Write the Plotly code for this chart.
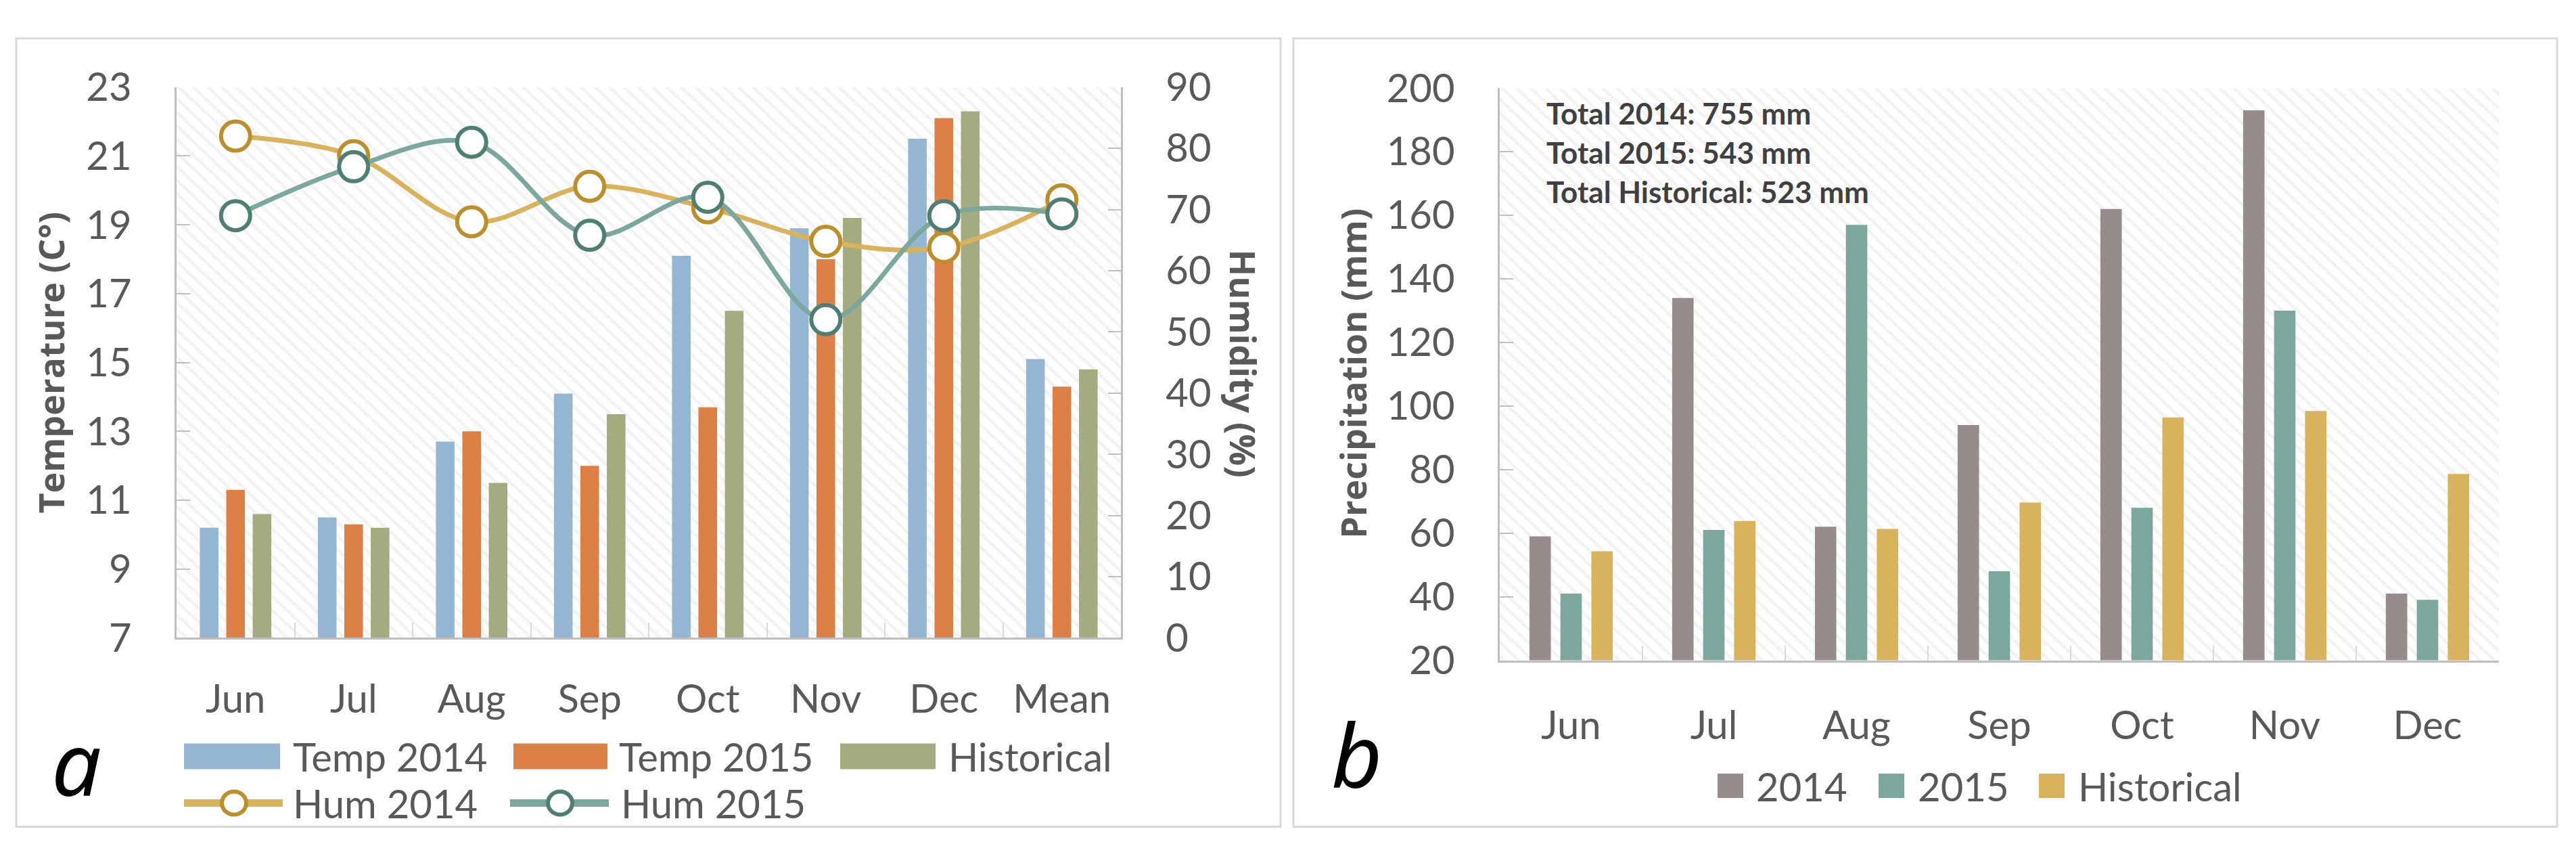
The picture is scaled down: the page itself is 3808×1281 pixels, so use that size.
import base64
import plotly.graph_objects as go

# ---------------- data ----------------
months_a = ["Jun", "Jul", "Aug", "Sep", "Oct", "Nov", "Dec", "Mean"]
temp_2014 = [10.2, 10.5, 12.7, 14.1, 18.1, 18.9, 21.5, 15.1]
temp_2015 = [11.3, 10.3, 13.0, 12.0, 13.7, 18.0, 22.1, 14.3]
temp_hist = [10.6, 10.2, 11.5, 13.5, 16.5, 19.2, 22.3, 14.8]
hum_2014 = [82.0, 78.8, 68.0, 73.8, 70.3, 64.8, 63.8, 71.6]
hum_2015 = [69.0, 77.0, 81.0, 65.8, 72.0, 52.0, 69.0, 69.3]

months_b = ["Jun", "Jul", "Aug", "Sep", "Oct", "Nov", "Dec"]
prec_2014 = [59, 134, 62, 94, 162, 193, 41]
prec_2015 = [41, 61, 157, 48, 68, 130, 39]
prec_hist = [54.3, 63.8, 61.3, 69.6, 96.4, 98.4, 78.6]

temp_ticks = [7, 9, 11, 13, 15, 17, 19, 21, 23]
hum_ticks = [0, 10, 20, 30, 40, 50, 60, 70, 80, 90]
prec_ticks = [20, 40, 60, 80, 100, 120, 140, 160, 180, 200]

legend_a_bars = ["Temp 2014", "Temp 2015", "Historical"]
legend_a_lines = ["Hum 2014", "Hum 2015"]
legend_b = ["2014", "2015", "Historical"]
totals_text = ["Total 2014: 755 mm", "Total 2015: 543 mm", "Total Historical: 523 mm"]

# ---------------- style ----------------
W, H = 3808, 1281
C_T14, C_T15, C_TH = "#95B6D2", "#DD8047", "#A5AB81"
C_H14_LINE, C_H14_MK = "#D9B25C", "#BB8F2C"
C_H15_LINE, C_H15_MK = "#7BA79D", "#4F7F72"
C_P14, C_P15, C_PH = "#968C8C", "#7BA79D", "#D8B25C"
TXT = "#595959"
AXC = "#BFBFBF"
TICKFONT = dict(family="Lato, 'Open Sans', sans-serif", size=58, color=TXT)
TITLEFONT = dict(family="'Open Sans', 'Noto Sans', sans-serif", size=52, color=TXT, weight="bold")


def px(x):
    return x / W


def py(y):
    return 1 - y / H


def hatch(wpx, hpx):
    svg = (
        f'<svg xmlns="http://www.w3.org/2000/svg" width="{wpx}" height="{hpx}" '
        f'viewBox="0 0 {wpx} {hpx}" preserveAspectRatio="none">'
        '<defs><pattern id="p" width="15" height="15" patternUnits="userSpaceOnUse" '
        'patternTransform="rotate(-45)"><rect x="0" y="0" width="5" height="15" fill="#F3F3F3"/>'
        '</pattern></defs>'
        f'<rect width="{wpx}" height="{hpx}" fill="#FFFFFF"/>'
        f'<rect width="{wpx}" height="{hpx}" fill="url(#p)"/></svg>'
    )
    return "data:image/svg+xml;base64," + base64.b64encode(svg.encode()).decode()


fig = go.Figure()

# ---------- panel a bars ----------
wa, sa = 0.158, 0.224
for i, (name, vals, col) in enumerate(
    [(legend_a_bars[0], temp_2014, C_T14), (legend_a_bars[1], temp_2015, C_T15), (legend_a_bars[2], temp_hist, C_TH)]
):
    fig.add_trace(go.Bar(
        x=months_a, y=vals, name=name, marker=dict(color=col, line=dict(width=0)),
        width=wa, offset=(i - 1) * sa - wa / 2, xaxis="x", yaxis="y", showlegend=False,
    ))

# ---------- panel a humidity lines ----------
for name, vals, lc, mc in [(legend_a_lines[0], hum_2014, C_H14_LINE, C_H14_MK),
                           (legend_a_lines[1], hum_2015, C_H15_LINE, C_H15_MK)]:
    fig.add_trace(go.Scatter(
        x=months_a, y=vals, name=name, mode="lines+markers",
        line=dict(color=lc, width=7, shape="spline", smoothing=1.0),
        marker=dict(symbol="circle", size=43, color="white", line=dict(color=mc, width=6)),
        xaxis="x", yaxis="y2", showlegend=False, cliponaxis=False,
    ))

# ---------- panel b bars ----------
wb, sb = 0.150, 0.217
for i, (name, vals, col) in enumerate(
    [(legend_b[0], prec_2014, C_P14), (legend_b[1], prec_2015, C_P15), (legend_b[2], prec_hist, C_PH)]
):
    fig.add_trace(go.Bar(
        x=months_b, y=vals, name=name, marker=dict(color=col, line=dict(width=0)),
        width=wb, offset=(i - 1) * sb - wb / 2, xaxis="x2", yaxis="y3", showlegend=False,
    ))

xa_dom = [px(261), px(1657)]
ya_dom = [py(957), py(97)]
xb_dom = [px(2217), px(3694)]
yb_dom = [py(992), py(98.5)]

common_x = dict(type="category", showline=True, linecolor=AXC, linewidth=3,
                ticks="inside", tickson="boundaries", ticklen=22, tickwidth=2, tickcolor="#D9D9D9",
                tickfont=TICKFONT, showgrid=False, zeroline=False, fixedrange=True)
common_y = dict(showline=True, linecolor=AXC, linewidth=2.5, ticks="inside", ticklen=20,
                tickwidth=2, tickcolor=AXC, tickfont=TICKFONT, showgrid=False, zeroline=False,
                fixedrange=True, ticklabelstandoff=52)

fig.update_layout(
    width=W, height=H, autosize=False,
    margin=dict(l=0, r=0, t=0, b=0, pad=0),
    paper_bgcolor="white", plot_bgcolor="rgba(0,0,0,0)",
    barmode="overlay", showlegend=False,
    xaxis=dict(domain=xa_dom, anchor="y", range=[-0.5, 7.5], ticklabelstandoff=38, **common_x),
    yaxis=dict(domain=ya_dom, anchor="x", range=[7, 23], tickvals=temp_ticks, **common_y),
    yaxis2=dict(domain=ya_dom, anchor="x", overlaying="y", side="right", range=[0, 90],
                tickvals=hum_ticks, **{**common_y, "ticklen": 19}),
    xaxis2=dict(domain=xb_dom, anchor="y3", range=[-0.5, 6.5], ticklabelstandoff=44, **common_x),
    yaxis3=dict(domain=yb_dom, anchor="x2", range=[20, 200], tickvals=prec_ticks, **common_y),
)

# hatched plot backgrounds
fig.add_layout_image(dict(source=hatch(1396, 860), xref="paper", yref="paper",
                          x=xa_dom[0], y=ya_dom[1], sizex=xa_dom[1] - xa_dom[0], sizey=ya_dom[1] - ya_dom[0],
                          xanchor="left", yanchor="top", sizing="stretch", layer="below"))
fig.add_layout_image(dict(source=hatch(1477, 894), xref="paper", yref="paper",
                          x=xb_dom[0], y=yb_dom[1], sizex=xb_dom[1] - xb_dom[0], sizey=yb_dom[1] - yb_dom[0],
                          xanchor="left", yanchor="top", sizing="stretch", layer="below"))

shapes = []
# panel borders
for x0, x1 in [(24, 1893), (1912, 3780)]:
    shapes.append(dict(type="rect", xref="paper", yref="paper", x0=px(x0), x1=px(x1), y0=py(1252), y1=py(21),
                       line=dict(color="#D9D9D9", width=3), fillcolor="rgba(0,0,0,0)", layer="below"))

ann = []
LEGFONT = dict(family="Lato, 'Open Sans', sans-serif", size=58, color=TXT)

# legend a, row 1 (bars)
for (x0, x1, tx), name, col in zip([(272, 414, 431), (759, 898, 913), (1242, 1383, 1400)],
                                   legend_a_bars, [C_T14, C_T15, C_TH]):
    shapes.append(dict(type="rect", xref="paper", yref="paper", x0=px(x0), x1=px(x1),
                       y0=py(1162), y1=py(1122), fillcolor=col, line=dict(width=0)))
    ann.append(dict(text=name, x=px(tx), y=py(1142), xref="paper", yref="paper", xanchor="left",
                    yanchor="middle", showarrow=False, font=LEGFONT))
# legend a, row 2 (lines)
for (x0, x1, cx, tx), name, lc, mc in zip([(272, 418, 346, 431), (754, 900, 828, 916)],
                                          legend_a_lines, [C_H14_LINE, C_H15_LINE], [C_H14_MK, C_H15_MK]):
    shapes.append(dict(type="line", xref="paper", yref="paper", x0=px(x0), x1=px(x1),
                       y0=py(1215), y1=py(1215), line=dict(color=lc, width=11)))
    shapes.append(dict(type="circle", xref="paper", yref="paper", x0=px(cx - 18), x1=px(cx + 18),
                       y0=py(1215 + 18), y1=py(1215 - 18), fillcolor="white", line=dict(color=mc, width=6)))
    ann.append(dict(text=name, x=px(tx), y=py(1215), xref="paper", yref="paper", xanchor="left",
                    yanchor="middle", showarrow=False, font=LEGFONT))

# legend b
for (x0, tx), name, col in zip([(2539, 2594), (2777, 2833), (3014, 3070)], legend_b, [C_P14, C_P15, C_PH]):
    shapes.append(dict(type="rect", xref="paper", yref="paper", x0=px(x0), x1=px(x0 + 38),
                       y0=py(1207), y1=py(1169), fillcolor=col, line=dict(width=0)))
    ann.append(dict(text=name, x=px(tx), y=py(1188), xref="paper", yref="paper", xanchor="left",
                    yanchor="middle", showarrow=False, font=LEGFONT))

# axis titles
ann.append(dict(text="Temperature (C°)", x=px(75), y=py(527), xref="paper", yref="paper", textangle=-90,
                showarrow=False, xanchor="center", yanchor="middle", font=TITLEFONT))
ann.append(dict(text="Humidity (%)", x=px(1838), y=py(528), xref="paper", yref="paper", textangle=90,
                showarrow=False, xanchor="center", yanchor="middle", font=TITLEFONT))
ann.append(dict(text="Precipitation (mm)", x=px(2000), y=py(544), xref="paper", yref="paper", textangle=-90,
                showarrow=False, xanchor="center", yanchor="middle", font=TITLEFONT))

# totals
for t, yy in zip(totals_text, [137, 199, 260]):
    ann.append(dict(text=t, x=px(2284), y=py(yy), xref="paper", yref="paper", xanchor="left", yanchor="middle",
                    showarrow=False, font=dict(family="Lato, 'Open Sans', sans-serif", size=44, color="#404040",
                                               weight="bold")))

# panel letters
LETTER = dict(family="'Noto Sans', 'Open Sans', sans-serif", size=130, color="black", style="italic")
ann.append(dict(text="a", x=px(113), y=py(1150), xref="paper", yref="paper", xanchor="center", yanchor="middle",
                showarrow=False, font=LETTER))
ann.append(dict(text="b", x=px(2005), y=py(1138), xref="paper", yref="paper", xanchor="center", yanchor="middle",
                showarrow=False, font=LETTER))

fig.update_layout(shapes=shapes, annotations=ann)

fig.write_html("out.html", config={"displayModeBar": False},
               post_script="document.body.style.margin='0';document.body.style.overflow='hidden';")
